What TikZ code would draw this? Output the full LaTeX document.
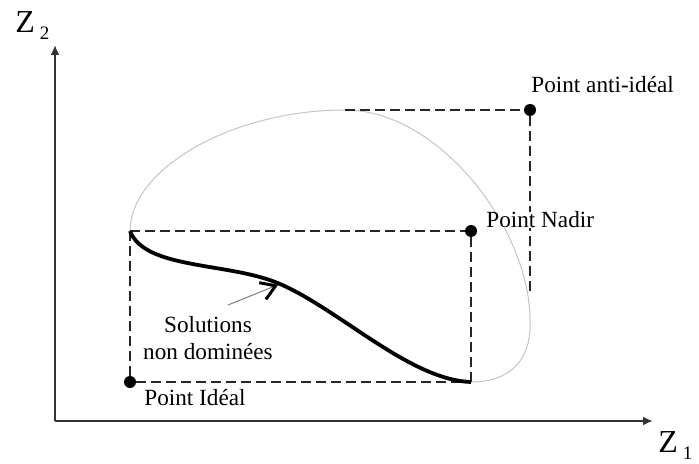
\documentclass[tikz,border=0pt]{standalone}
\usepackage{fontspec}
\setmainfont{Liberation Serif}
\usetikzlibrary{arrows.meta, positioning}
\definecolor{RegionGray}{HTML}{C4C4C4}
\newcommand{\axislabel}[2]{{\fontsize{16}{16}\selectfont #1}\kern2.5pt\raisebox{-3.5pt}{\fontsize{9.5}{10}\selectfont #2}}

\begin{document}
\begin{tikzpicture}[
    x=0.5pt, y=-0.5pt,
    dot/.style={circle, fill=black, inner sep=0pt, minimum size=6pt},
    lbl/.style={inner sep=0pt, font=\fontsize{11.6}{13.5}\selectfont},
    guide/.style={dash pattern=on 5pt off 2.5pt, line width=0.75pt, color=black!85},
    axis/.style={-{Latex[length=5pt, width=4.5pt]}, line width=1pt, color=black!80},
    front/.style={line width=1.9pt, color=black},
    region/.style={line width=0.5pt, color=RegionGray}
]
\useasboundingbox (0,0) rectangle (699,464);

% axes
\coordinate (o) at (55,421);
\coordinate (ytip) at (55,45);
\coordinate (xtip) at (653,421);
\draw[axis] (o) -- (ytip);
\draw[axis] (o) -- (xtip);
\node[anchor=base west, inner sep=0pt] (z2) at (15,33) {\axislabel{Z}{2}};
\node[anchor=base west, inner sep=0pt] (z1) at (658,452) {\axislabel{Z}{1}};

% reference points
\node[dot] (ideal) at (130,382) {};
\node[dot] (nadir) at (471,231) {};
\node[dot] (anti) at (530,110) {};
\coordinate (tl) at (ideal |- nadir);
\coordinate (br) at (nadir |- ideal);
\coordinate (antidown) at (530,295);
\coordinate (antileft) at (345,110);
\coordinate (mid) at (280,284);
\coordinate (ptr) at (228,305);

% feasible region
\draw[region] (br) .. controls (510,382) and (532,360) .. (530,320)
  .. controls (530,230) and (440,110) .. (antileft)
  .. controls (230,110) and (130,170) .. (tl);

% dashed guides
\foreach \i/\j in {tl/nadir, nadir/br, tl/ideal, ideal/br, antileft/anti, anti/antidown}{\draw[guide] (\i) -- (\j);}

% non-dominated front
\draw[front] (tl) .. controls (145,270) and (230,262) .. (mid)
  .. controls (340,310) and (410,380) .. (br);
\draw[color=black!50, line width=0.5pt, -{Straight Barb[color=black, length=7pt, width=9pt, line width=1.5pt]}, shorten >=1pt] (ptr) -- (mid);

% labels
\node[lbl, anchor=west] (antilbl) at (531,85) {Point anti-idéal};
\node[lbl, anchor=west, fill=white] (nadirlbl) at (486,220) {Point Nadir};
\node[lbl, anchor=west] (ideallbl) at (144,398) {Point Idéal};
\node[lbl, align=center] (sollbl) at (208,338) {Solutions\\non dominées};
\end{tikzpicture}
\end{document}
